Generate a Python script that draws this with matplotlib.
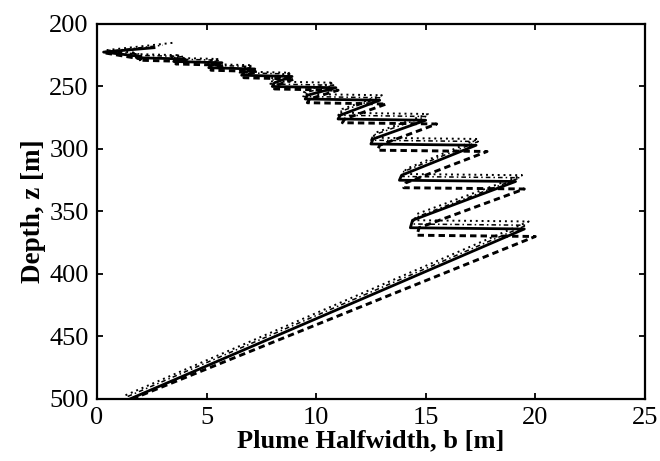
import matplotlib
matplotlib.use("Agg")
import matplotlib.pyplot as plt

# -----------------------------
# Plume halfwidth profiles (b [m] vs depth z [m])
# -----------------------------
solid_b = [1.5, 19.5, 14.3, 14.4, 19.1, 13.8, 13.9, 17.3, 12.5, 12.6, 15.0, 11.0, 11.1, 12.9,
           9.5, 9.6, 10.9, 8.0, 8.1, 8.9, 6.6, 6.7, 7.2, 5.1, 5.2, 5.7, 3.5, 3.6, 4.0, 1.8, 2.0, 0.3, 2.6]
solid_z = [500, 364, 363, 357, 326, 325, 321, 297, 296, 292, 277, 276, 273, 261,
           260, 257, 251, 250, 247, 242, 241, 239, 236, 235, 233, 231, 230, 229, 228, 227, 226, 222.5, 219]

dashed_b = [1.6, 20.0, 14.6, 14.7, 19.5, 14.0, 14.1, 17.8, 12.8, 12.9, 15.5, 11.2, 11.3, 13.2,
            9.6, 9.7, 11.0, 8.1, 8.2, 9.0, 6.7, 6.8, 7.3, 5.2, 5.3, 5.8, 3.6, 3.7, 4.1, 1.9, 2.0, 0.3]
dashed_z = [500, 370, 369, 363, 332, 331, 327, 302, 301, 297, 280, 279, 276, 264,
            263, 260, 253, 252, 249, 244, 243, 241, 238, 237, 235, 233, 232, 231, 230, 229, 228, 223]

dotted_b = [1.3, 19.7, 14.5, 14.6, 19.4, 14.0, 14.1, 17.4, 12.6, 12.7, 15.1, 11.1, 11.2, 13.0,
            9.4, 9.5, 10.8, 7.9, 8.0, 8.8, 6.5, 6.6, 7.1, 4.9, 5.0, 5.5, 3.3, 3.4, 3.8, 1.6, 1.8, 0.4, 3.5]
dotted_z = [497, 358, 357, 352, 321, 320, 316, 292, 291, 287, 272, 271, 268, 257,
            256, 253, 247, 246, 243, 239, 238, 236, 233, 232, 230, 228, 227, 226, 225, 224, 223, 221, 215]

dashdot_b = [1.4, 19.6, 14.4, 14.5, 19.3, 13.9, 14.0, 17.4, 12.5, 12.6, 15.0, 11.0, 11.1, 12.9,
             9.4, 9.5, 10.8, 7.9, 8.0, 8.8, 6.5, 6.6, 7.1, 5.0, 5.1, 5.6, 3.4, 3.5, 3.9, 1.7, 1.9, 0.4, 3.0]
dashdot_z = [498, 361, 360, 355, 323, 322, 318, 294, 293, 289, 274, 273, 270, 259,
             258, 255, 249, 248, 245, 240, 239, 237, 234, 233, 231, 229, 228, 227, 226, 225, 224, 222, 217]

x_ticks = [0, 5, 10, 15, 20, 25]
y_ticks = [200, 250, 300, 350, 400, 450, 500]

# -----------------------------
# Plot
# -----------------------------
plt.rcParams['font.family'] = ['Liberation Serif', 'DejaVu Serif']

fig = plt.figure(figsize=(6.6, 4.61), dpi=100)
ax = fig.add_axes([0.147, 0.1345, 0.83, 0.8135])

ax.plot(dotted_b, dotted_z, color='black', linestyle=(0, (1, 2)), linewidth=1.4)
ax.plot(dashdot_b, dashdot_z, color='black', linestyle=(0, (3, 2, 1, 2)), linewidth=1.1)
ax.plot(dashed_b, dashed_z, color='black', linestyle=(0, (2.2, 1.4)), linewidth=2.1)
ax.plot(solid_b, solid_z, color='black', linestyle='-', linewidth=2.0)

ax.set_xlim(0, 25)
ax.set_ylim(500, 200)
ax.set_xticks(x_ticks)
ax.set_yticks(y_ticks)
ax.tick_params(direction='in', length=4, width=1.3, labelsize=19,
               top=True, right=True, pad=6)
for s in ax.spines.values():
    s.set_linewidth(1.6)

ax.set_xlabel('Plume Halfwidth, b [m]', fontsize=19, fontweight='bold', labelpad=0)
ax.set_ylabel('Depth, z [m]', fontsize=19.5, fontweight='bold', labelpad=2)

fig.savefig('out.png', dpi=100)
